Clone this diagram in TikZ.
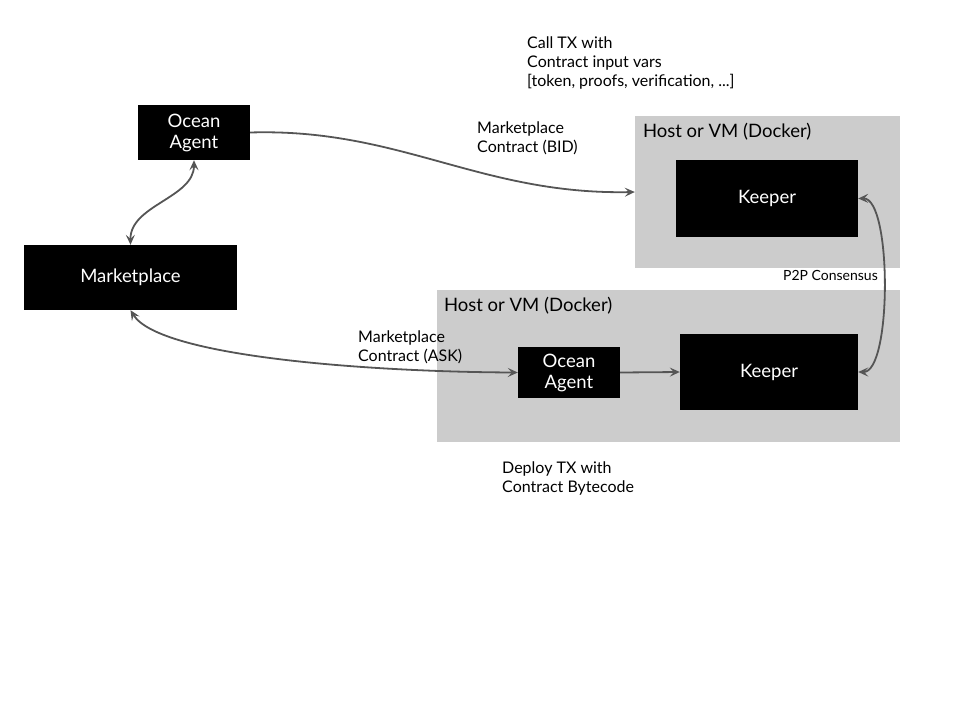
\documentclass[tikz,border=0pt]{standalone}
\usepackage{fontspec}
\setmainfont{Lato}
\usetikzlibrary{arrows.meta}
\definecolor{hostgray}{HTML}{CCCCCC}
\definecolor{wiregray}{HTML}{555555}
\begin{document}
\begin{tikzpicture}[x = 1pt, y = -1pt,
		blackbox/.style = {fill = black, text = white, align = center, inner sep = 0pt, font = \fontsize{18.5}{21}\selectfont},
		hostbox/.style = {fill = hostgray, inner sep = 0pt},
		hosttitle/.style = {anchor = north west, inner sep = 0pt, font = \fontsize{18.5}{21}\selectfont},
		note/.style = {anchor = north west, align = left, inner sep = 0pt, font = \fontsize{16}{19}\selectfont},
		wire/.style = {draw = wiregray, line width = 1.8pt, >={Stealth[length = 10pt, width = 9pt, inset = 4pt]}}]
	\useasboundingbox (0,0) rectangle (960,720);
	\node[hostbox, minimum width = 265, minimum height = 152] (hostA) at (767.5,192) {};
	\node[hostbox, minimum width = 463, minimum height = 152] (hostB) at (668.5,366) {};
	\node[hosttitle] (titleA) at ([xshift = 8pt, yshift = -7pt]hostA.north west) {Host or VM (Docker)};
	\node[hosttitle] (titleB) at ([xshift = 7pt, yshift = -7pt]hostB.north west) {Host or VM (Docker)};
	\node[blackbox, minimum width = 112, minimum height = 55] (agentA) at (194,132.5) {Ocean\\Agent};
	\node[blackbox, minimum width = 213, minimum height = 65] (market) at (130.5,277.5) {Marketplace};
	\node[blackbox, minimum width = 182, minimum height = 77] (keeperA) at (767,198.5) {Keeper};
	\node[blackbox, minimum width = 102, minimum height = 51] (agentB) at (569,372.5) {Ocean\\Agent};
	\node[blackbox, minimum width = 178, minimum height = 76] (keeperB) at (769,372) {Keeper};
	\node[note] (callTX) at (527,37) {Call TX with\\Contract input vars\\{[token, proofs, verification, ...]}};
	\node[note] (bid) at (477,122) {Marketplace\\Contract (BID)};
	\node[note] (ask) at (358,331) {Marketplace\\Contract (ASK)};
	\node[note] (deploy) at (502,462) {Deploy TX with\\Contract Bytecode};
	\node[anchor = north east, inner sep = 0pt, font = \fontsize{14}{16}\selectfont] (p2p) at (878,270) {P2P Consensus};
	\draw[wire, ->] (agentA.east) .. controls (400,128) and (480,195) .. (hostA.west);
	\draw[wire, <->] (agentA.south) .. controls (194,198) and (130,205) .. (market.north);
	\draw[wire, <->] (market.south) .. controls (160,358) and (380,372) .. (agentB.west);
	\draw[wire, ->] (agentB.east) -- (keeperB.west);
	\draw[wire, <->] (keeperA.east) .. controls (892,198) and (892,372) .. (keeperB.east);
\end{tikzpicture}
\end{document}
